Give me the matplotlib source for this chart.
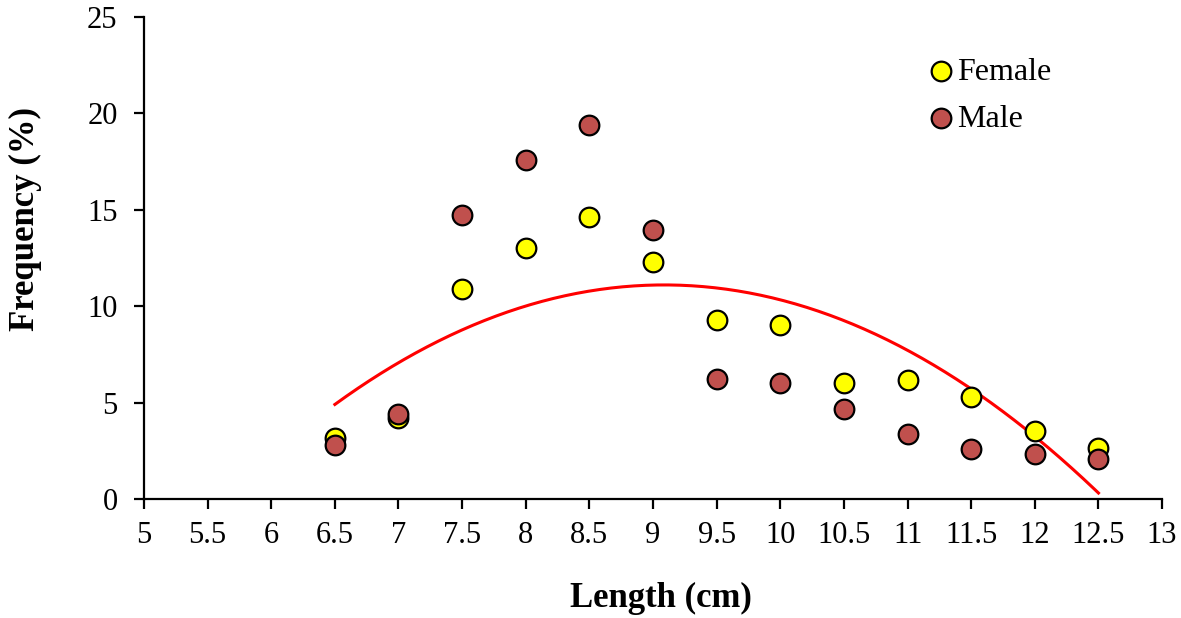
import numpy as np
import matplotlib
import matplotlib.pyplot as plt

matplotlib.use('Agg')

length = [6.5, 7, 7.5, 8, 8.5, 9, 9.5, 10, 10.5, 11, 11.5, 12, 12.5]
female = [3.15, 4.2, 10.9, 13.0, 14.6, 12.3, 9.3, 9.0, 6.0, 6.15, 5.3, 3.5, 2.65]
male = [2.8, 4.4, 14.75, 17.6, 19.4, 13.95, 6.2, 6.0, 4.65, 3.35, 2.6, 2.35, 2.05]
# polynomial trendline coefficients
trend = [-0.9265, 16.838, -65.40]

plt.rcParams['font.family'] = ['Liberation Serif', 'DejaVu Serif']

fig = plt.figure(figsize=(11.81, 6.18), dpi=100)
ax = fig.add_axes([0.1219, 0.1926, 0.8621, 0.7799])

xs = np.linspace(length[0], length[-1], 200)
ax.plot(xs, np.polyval(trend, xs), color='#ff0000', lw=2.2, zorder=2)

ax.scatter(length, female, s=200, c='#ffff00', edgecolors='black',
           linewidths=1.6, label='Female', zorder=3)
ax.scatter(length, male, s=200, c='#c0504d', edgecolors='black',
           linewidths=1.6, label='Male', zorder=4)

ax.set_xlim(5, 13)
ax.set_ylim(0, 25)
ax.set_xticks(np.arange(5, 13.01, 0.5))
ax.set_xticklabels(['%g' % t for t in np.arange(5, 13.01, 0.5)])
ax.set_yticks(range(0, 26, 5))

for s in ['top', 'right']:
    ax.spines[s].set_visible(False)
for s in ['left', 'bottom']:
    ax.spines[s].set_linewidth(1.6)
ax.tick_params(direction='out', length=7, width=1.6, labelsize=22)
ax.tick_params(axis='x', pad=9)
ax.tick_params(axis='y', pad=12)

ax.set_xlabel('Length (cm)', fontsize=25, fontweight='bold')
ax.set_ylabel('Frequency (%)', fontsize=25, fontweight='bold')
ax.xaxis.set_label_coords(0.508, -0.172)
ax.yaxis.set_label_coords(-0.1, 0.58)

ax.legend(loc='upper left', bbox_to_anchor=(0.756, 0.943), frameon=False,
          fontsize=23, handlelength=0.9, handletextpad=0.05,
          labelspacing=0.55, borderaxespad=0)

fig.savefig('out.png', dpi=100)
